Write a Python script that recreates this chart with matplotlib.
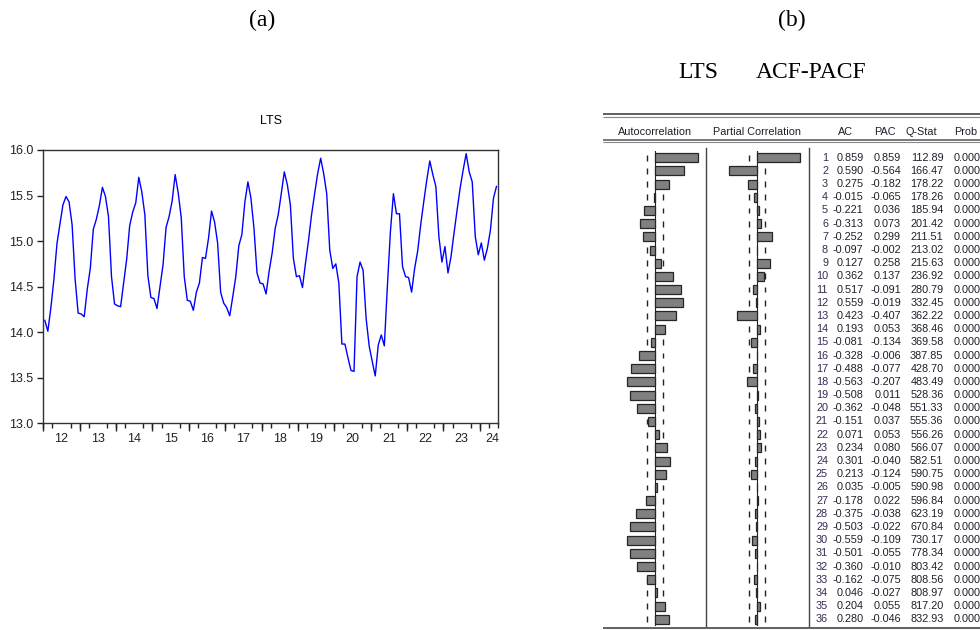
import numpy as np
import matplotlib.pyplot as plt

# LTS monthly series, 2012M01 - 2024M06
lts = [
    14.13, 14.01, 14.27, 14.58, 14.97, 15.19, 15.40, 15.49, 15.43, 15.18, 14.58, 14.21,  # 2012
    14.20, 14.17, 14.47, 14.70, 15.13, 15.24, 15.39, 15.59, 15.49, 15.27, 14.61, 14.31,  # 2013
    14.29, 14.28, 14.54, 14.80, 15.17, 15.32, 15.42, 15.70, 15.54, 15.29, 14.62, 14.38,  # 2014
    14.37, 14.26, 14.50, 14.74, 15.15, 15.27, 15.44, 15.73, 15.53, 15.26, 14.61, 14.35,  # 2015
    14.34, 14.24, 14.44, 14.54, 14.82, 14.81, 15.03, 15.33, 15.21, 14.98, 14.44, 14.32,  # 2016
    14.27, 14.18, 14.39, 14.61, 14.95, 15.07, 15.43, 15.65, 15.47, 15.14, 14.65, 14.54,  # 2017
    14.53, 14.42, 14.67, 14.87, 15.14, 15.29, 15.52, 15.76, 15.62, 15.40, 14.81, 14.61,  # 2018
    14.62, 14.49, 14.76, 15.01, 15.29, 15.52, 15.74, 15.91, 15.74, 15.52, 14.90, 14.70,  # 2019
    14.75, 14.54, 13.87, 13.87, 13.72, 13.58, 13.57, 14.61, 14.77, 14.68, 14.15, 13.85,  # 2020
    13.68, 13.52, 13.86, 13.97, 13.85, 14.50, 15.10, 15.52, 15.30, 15.30, 14.72, 14.61,  # 2021
    14.60, 14.44, 14.70, 14.89, 15.18, 15.43, 15.67, 15.88, 15.73, 15.60, 15.05, 14.77,  # 2022
    14.94, 14.65, 14.83, 15.09, 15.34, 15.58, 15.78, 15.96, 15.76, 15.65, 15.05, 14.85,  # 2023
    14.98, 14.79, 14.92, 15.12, 15.47, 15.60,                                            # 2024
]
year_labels = ['12', '13', '14', '15', '16', '17', '18', '19', '20', '21', '22', '23', '24']
y_ticks = [13.0, 13.5, 14.0, 14.5, 15.0, 15.5, 16.0]

# correlogram
lags = list(range(1, 37))
ac = [0.859, 0.590, 0.275, -0.015, -0.221, -0.313, -0.252, -0.097, 0.127, 0.362,
      0.517, 0.559, 0.423, 0.193, -0.081, -0.328, -0.488, -0.563, -0.508, -0.362,
      -0.151, 0.071, 0.234, 0.301, 0.213, 0.035, -0.178, -0.375, -0.503, -0.559,
      -0.501, -0.360, -0.162, 0.046, 0.204, 0.280]
pac = [0.859, -0.564, -0.182, -0.065, 0.036, 0.073, 0.299, -0.002, 0.258, 0.137,
       -0.091, -0.019, -0.407, 0.053, -0.134, -0.006, -0.077, -0.207, 0.011, -0.048,
       0.037, 0.053, 0.080, -0.040, -0.124, -0.005, 0.022, -0.038, -0.022, -0.109,
       -0.055, -0.010, -0.075, -0.027, 0.055, -0.046]
qstat = [112.89, 166.47, 178.22, 178.26, 185.94, 201.42, 211.51, 213.02, 215.63, 236.92,
         280.79, 332.45, 362.22, 368.46, 369.58, 387.85, 428.70, 483.49, 528.36, 551.33,
         555.36, 556.26, 566.07, 582.51, 590.75, 590.98, 596.84, 623.19, 670.84, 730.17,
         778.34, 803.42, 808.56, 808.97, 817.20, 832.93]
prob = [0.000] * 36
n_obs = len(lts)

W, H = 980, 630
plt.rcParams['font.family'] = ['Liberation Sans', 'DejaVu Sans']
fig = plt.figure(figsize=(W / 100, H / 100), dpi=100)


def box(x0, y0, x1, y1):
    # pixel box (top-left origin) -> figure fraction rect
    return [x0 / W, 1 - y1 / H, (x1 - x0) / W, (y1 - y0) / H]


# ---------------- (a) time series ----------------
ax = fig.add_axes(box(43.3, 150, 498, 423.3))
months = np.arange(n_obs)
ax.plot(months, lts, color='#0000ff', lw=1.0)
ax.set_xlim(-0.5, n_obs - 0.5)
ax.set_ylim(13.0, 16.0)
ax.set_yticks(y_ticks)
ax.set_yticklabels([f'{v:.1f}' for v in y_ticks], fontsize=9)
ax.tick_params(axis='y', direction='out', length=4, width=1, pad=3, colors='#222')

centers = [5.5 + 12 * i for i in range(12)] + [147.5]
ax.set_xticks(centers)
ax.set_xticklabels(year_labels, fontsize=9)
ax.set_xticks(np.arange(-0.5, n_obs, 3), minor=True)
ax.tick_params(axis='x', which='major', length=0, pad=7, colors='#222')
ax.tick_params(axis='x', which='minor', length=3.5, width=1, color='#222')
sec = ax.secondary_xaxis('bottom')
sec.set_xticks(np.arange(-0.5, n_obs, 12))
sec.set_xticklabels([])
sec.tick_params(length=6, width=1, color='#222')
sec.spines['bottom'].set_visible(False)
for s in ax.spines.values():
    s.set_color('#333')
    s.set_linewidth(1.0)
ax.set_title('LTS', fontsize=9, pad=19)

# ---------------- (b) correlogram ----------------
serif = ['Liberation Serif', 'DejaVu Serif']
fig.text(262 / W, 1 - 20 / H, '(a)', fontsize=17, family=serif, ha='center', va='center')
fig.text(792 / W, 1 - 20 / H, '(b)', fontsize=17, family=serif, ha='center', va='center')
fig.text(698 / W, 1 - 72 / H, 'LTS', fontsize=17, family=serif, ha='center', va='center')
fig.text(811 / W, 1 - 72 / H, 'ACF-PACF', fontsize=17, family=serif, ha='center', va='center')

row_top, row_bot = 151.1, 625.9
bound = 2 / np.sqrt(n_obs)
px_per_unit = 49.5


def corr_axes(x0, x1, zero_px, values):
    a = fig.add_axes(box(x0, row_top, x1, row_bot))
    a.set_xlim((x0 - zero_px) / px_per_unit, (x1 - zero_px) / px_per_unit)
    a.set_ylim(36.5, 0.5)
    a.axis('off')
    a.barh(lags, values, height=0.68, color='#808080', edgecolor='#262626', lw=0.9, zorder=3)
    a.axvline(0, color='#222', lw=0.8, zorder=2)
    lo = [l - 0.22 for l in lags]
    hi = [l + 0.22 for l in lags]
    a.vlines([-bound] * 36, lo, hi, color='#222', lw=1.0)
    a.vlines([bound] * 36, lo, hi, color='#222', lw=1.0)
    return a


corr_axes(603, 706, 655, ac)
corr_axes(706, 809, 757.3, pac)

# table text
tab = fig.add_axes(box(809, row_top, W, row_bot))
tab.set_xlim(809, W)
tab.set_ylim(36.5, 0.5)
tab.axis('off')
fs = 7.8
for i, lag in enumerate(lags):
    tab.text(828, lag, str(lag), fontsize=fs, ha='right', va='center', color='#3a2850')
    tab.text(863.5, lag, f'{ac[i]:.3f}', fontsize=fs, ha='right', va='center', color='#1e1e2a')
    tab.text(901, lag, f'{pac[i]:.3f}', fontsize=fs, ha='right', va='center', color='#1e1e2a')
    tab.text(943.5, lag, f'{qstat[i]:.2f}', fontsize=fs, ha='right', va='center', color='#1e1e2a')
    tab.text(954, lag, f'{prob[i]:.3f}', fontsize=fs, ha='left', va='center', color='#1e1e2a',
             clip_on=True)

# frame lines and headers (pixel overlay)
ov = fig.add_axes([0, 0, 1, 1], zorder=-1)
ov.set_xlim(0, W)
ov.set_ylim(H, 0)
ov.axis('off')
for y, lw, c in [(114, 1.3, '#555'), (116.8, 0.8, '#888'),
                 (139.5, 1.1, '#555'), (142.2, 0.8, '#888'),
                 (627.5, 1.3, '#555'), (630, 0.8, '#888')]:
    ov.plot([603, W], [y, y], color=c, lw=lw, solid_capstyle='butt')
ov.plot([706, 706], [148, 626], color='#444', lw=1.0)
ov.plot([809.3, 809.3], [148, 626], color='#444', lw=1.0)
hdr = dict(fontsize=7.8, va='center', color='#1e1e2a')
ov.text(655, 132, 'Autocorrelation', ha='center', **hdr)
ov.text(756.7, 132, 'Partial Correlation', ha='center', **hdr)
ov.text(845, 132, 'AC', ha='center', **hdr)
ov.text(885, 132, 'PAC', ha='center', **hdr)
ov.text(921.7, 132, 'Q-Stat', ha='center', **hdr)
ov.text(954, 132, 'Prob', ha='left', **hdr)

fig.savefig('out.png', dpi=100)
